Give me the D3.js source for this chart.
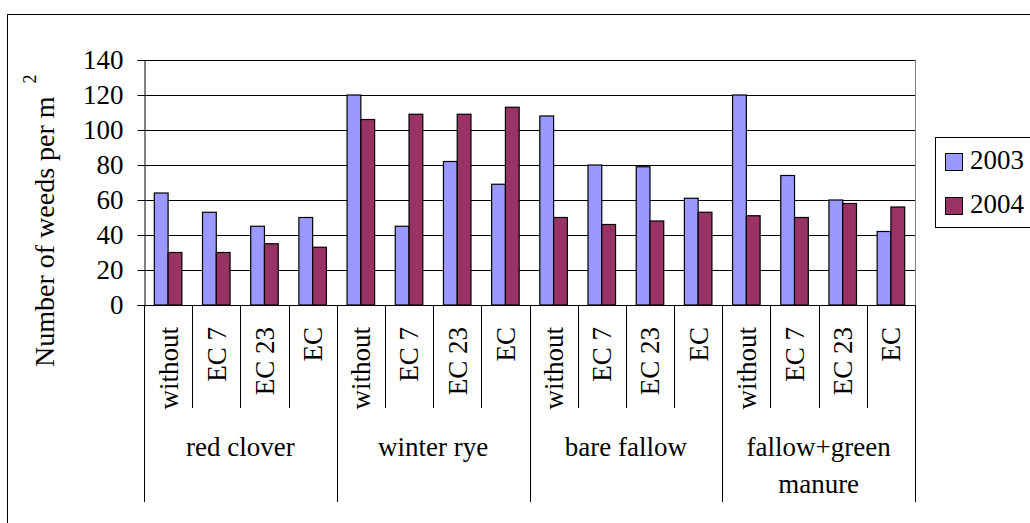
<html>
  <head>
    <meta charset="utf-8" />
    <script src="https://cdnjs.cloudflare.com/ajax/libs/d3/7.6.1/d3.min.js"></script>
    <style>
      body {
        margin: 0;
        background: #ffffff;
      }
      svg {
        display: block;
      }
      text {
        font-family: "Liberation Serif", "Times New Roman", serif;
        fill: #000000;
      }
    </style>
  </head>
  <body>
    <svg width="1030" height="523"></svg>
  </body>

  <script>
    var years = ["2003", "2004"];
    var groups = ["red clover", "winter rye", "bare fallow", "fallow+green manure"];
    var treatments = ["without", "EC 7", "EC 23", "EC"];
    var values2003 = [64, 53, 45, 50, 120, 45, 82, 69, 108, 80, 79, 61, 120, 74, 60, 42];
    var values2004 = [30, 30, 35, 33, 106, 109, 109, 113, 50, 46, 48, 53, 51, 50, 58, 56];
    var yTicks = [0, 20, 40, 60, 80, 100, 120, 140];
    var colors = ["#9999ff", "#993366"];

    const serif = "'Liberation Serif', 'Times New Roman', serif";

    // one row per bar position (group x treatment)
    var rows = [];
    groups.forEach((g, gi) => {
      treatments.forEach((t, ti) => {
        var i = gi * treatments.length + ti;
        rows.push({ key: g + "|" + t, group: g, treatment: t, vals: [values2003[i], values2004[i]] });
      });
    });

    const svg = d3.select("svg").attr("font-family", serif);
    const pLeft = 144, pRight = 915, pTop = 60, pBottom = 305;

    // chart border
    svg.append("rect")
      .attr("x", 7.5).attr("y", 14.5)
      .attr("width", 1040).attr("height", 530)
      .attr("fill", "none").attr("stroke", "#000");

    const xScale = d3.scaleBand().domain(rows.map((d) => d.key)).range([pLeft, pRight]);
    const xInner = d3.scaleBand().domain(years).range([0, xScale.bandwidth()]).paddingOuter(0.75);
    const yScale = d3.scaleLinear().domain([0, 140]).range([pBottom, pTop]);
    const groupScale = d3.scaleBand().domain(groups).range([pLeft, pRight]);

    // gridlines
    svg.append("g")
      .selectAll("line")
      .data(yTicks.filter((d) => d > 0))
      .enter()
      .append("line")
      .attr("x1", pLeft).attr("x2", pRight)
      .attr("y1", (d) => Math.round(yScale(d)) + 0.5)
      .attr("y2", (d) => Math.round(yScale(d)) + 0.5)
      .attr("stroke", "#000");

    // plot border right side
    svg.append("line")
      .attr("x1", pRight + 0.5).attr("x2", pRight + 0.5)
      .attr("y1", pTop).attr("y2", pBottom)
      .attr("stroke", "#808080");

    // bars
    svg.append("g")
      .selectAll("g")
      .data(rows)
      .enter()
      .append("g")
      .attr("transform", (d) => "translate(" + xScale(d.key) + ",0)")
      .selectAll("rect")
      .data((d) => d.vals.map((v, i) => ({ year: years[i], v: v, c: colors[i] })))
      .enter()
      .append("rect")
      .attr("x", (d) => xInner(d.year))
      .attr("width", xInner.bandwidth())
      .attr("y", (d) => yScale(d.v))
      .attr("height", (d) => pBottom - yScale(d.v))
      .attr("fill", (d) => d.c)
      .attr("stroke", "#000")
      .attr("stroke-width", 1.2);

    // y axis
    const yAxis = d3.axisLeft(yScale).tickValues(yTicks).tickSize(7).tickPadding(14);
    const yG = svg.append("g").attr("transform", "translate(" + (pLeft + 0.5) + ",0)").call(yAxis);
    yG.attr("font-family", serif).attr("font-size", 27);
    yG.select("path.domain").attr("stroke", "#000");
    yG.selectAll("line").attr("stroke", "#000");

    // x axis line
    svg.append("line")
      .attr("x1", pLeft).attr("x2", pRight + 1)
      .attr("y1", pBottom + 0.5).attr("y2", pBottom + 0.5)
      .attr("stroke", "#000");

    // category separators
    const sepG = svg.append("g");
    rows.forEach((d, i) => {
      var x = Math.round(xScale(d.key)) + 0.5;
      var isGroup = i % treatments.length === 0;
      sepG.append("line")
        .attr("x1", x).attr("x2", x)
        .attr("y1", pBottom).attr("y2", isGroup ? 502 : 408)
        .attr("stroke", "#000");
    });
    sepG.append("line")
      .attr("x1", pRight + 0.5).attr("x2", pRight + 0.5)
      .attr("y1", pBottom).attr("y2", 502)
      .attr("stroke", "#000");

    // treatment labels (rotated)
    svg.append("g")
      .selectAll("text")
      .data(rows)
      .enter()
      .append("text")
      .attr("transform", (d) => "translate(" + (xScale(d.key) + xScale.bandwidth() / 2) + ",327) rotate(-90)")
      .attr("text-anchor", "end")
      .attr("dy", "0.35em")
      .attr("font-size", 27)
      .text((d) => d.treatment);

    // group labels, wrapped to fit band
    svg.append("g")
      .selectAll("text")
      .data(groups)
      .enter()
      .append("text")
      .attr("x", (d) => groupScale(d) + groupScale.bandwidth() / 2)
      .attr("y", 456)
      .attr("text-anchor", "middle")
      .attr("font-size", 27)
      .each(function (d) {
        var el = d3.select(this);
        var words = d.split(" ");
        var line = [];
        var tspan = el.text(null).append("tspan").attr("x", el.attr("x")).attr("dy", 0);
        words.forEach((w) => {
          line.push(w);
          tspan.text(line.join(" "));
          if (tspan.node().getComputedTextLength() > groupScale.bandwidth() - 20 && line.length > 1) {
            line.pop();
            tspan.text(line.join(" "));
            line = [w];
            tspan = el.append("tspan").attr("x", el.attr("x")).attr("dy", 37).text(w);
          }
        });
      });

    // y axis title
    const title = svg.append("text")
      .attr("transform", "translate(54,367) rotate(-90)")
      .attr("font-size", 28)
      .attr("text-anchor", "start");
    title.append("tspan").text("Number of weeds per m ");
    title.append("tspan").attr("font-size", 18).attr("dx", 6).attr("dy", -18).text("2");

    // legend
    const lg = svg.append("g");
    lg.append("rect")
      .attr("x", 935.5).attr("y", 137.5)
      .attr("width", 100).attr("height", 90)
      .attr("fill", "#fff").attr("stroke", "#000");
    const items = lg.selectAll("g.item")
      .data(years)
      .enter()
      .append("g")
      .attr("class", "item")
      .attr("transform", (d, i) => "translate(0," + i * 44 + ")");
    items.append("rect")
      .attr("x", 945.5).attr("y", 153.5)
      .attr("width", 17).attr("height", 17)
      .attr("fill", (d, i) => colors[i])
      .attr("stroke", "#000");
    items.append("text")
      .attr("x", 970).attr("y", 169)
      .attr("font-size", 27)
      .text((d) => d);
  </script>
</html>
